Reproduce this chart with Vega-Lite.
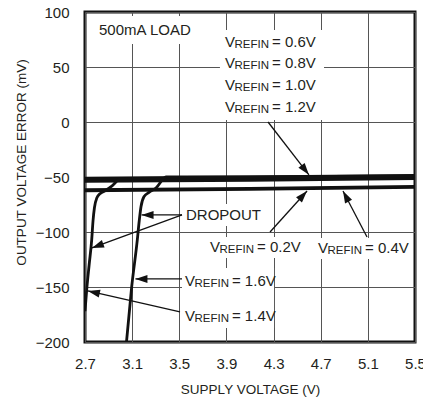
{
  "$schema": "https://vega.github.io/schema/vega-lite/v6.json",
  "autosize": "none",
  "width": 330,
  "height": 330,
  "padding": {"left": 85, "top": 12, "right": 8, "bottom": 60},
  "background": "white",
  "config": {
    "view": {"stroke": "#111", "strokeWidth": 3},
    "font": "Liberation Sans",
    "axis": {
      "grid": true, "gridColor": "#555", "gridWidth": 1, "gridOpacity": 1,
      "domain": false, "ticks": false, "tickSize": 0,
      "labelFont": "Liberation Sans",
      "titleFont": "Liberation Sans",
      "labelFontSize": 15, "titleFontSize": 13.5, "titleFontWeight": "normal",
      "labelColor": "#231f20", "titleColor": "#231f20",
      "labelOverlap": false, "labelFlush": false, "labelBound": false
    }
  },
  "datasets": {
    "curves": [
      {"s": "0.2V", "v": 2.7, "mv": -62.5}, {"s": "0.2V", "v": 4.1, "mv": -61.3}, {"s": "0.2V", "v": 5.5, "mv": -59.5},
      {"s": "0.4V", "v": 2.7, "mv": -61.5}, {"s": "0.4V", "v": 4.1, "mv": -60.3}, {"s": "0.4V", "v": 5.5, "mv": -58.5},
      {"s": "0.6V", "v": 2.7, "mv": -51}, {"s": "0.6V", "v": 4.1, "mv": -50}, {"s": "0.6V", "v": 5.5, "mv": -48.5},
      {"s": "0.8V", "v": 2.7, "mv": -52}, {"s": "0.8V", "v": 4.1, "mv": -51}, {"s": "0.8V", "v": 5.5, "mv": -49.5},
      {"s": "1.0V", "v": 2.7, "mv": -53}, {"s": "1.0V", "v": 4.1, "mv": -52}, {"s": "1.0V", "v": 5.5, "mv": -50.5},
      {"s": "1.2V", "v": 2.7, "mv": -54}, {"s": "1.2V", "v": 4.1, "mv": -53}, {"s": "1.2V", "v": 5.5, "mv": -51.5},
      {"s": "1.4V", "v": 2.7, "mv": -172}, {"s": "1.4V", "v": 2.714, "mv": -153}, {"s": "1.4V", "v": 2.735, "mv": -130},
      {"s": "1.4V", "v": 2.757, "mv": -107}, {"s": "1.4V", "v": 2.768, "mv": -90}, {"s": "1.4V", "v": 2.78, "mv": -78},
      {"s": "1.4V", "v": 2.8, "mv": -69}, {"s": "1.4V", "v": 2.83, "mv": -65}, {"s": "1.4V", "v": 2.87, "mv": -62.5},
      {"s": "1.4V", "v": 2.93, "mv": -58}, {"s": "1.4V", "v": 2.997, "mv": -52}, {"s": "1.4V", "v": 3.1, "mv": -51.8},
      {"s": "1.4V", "v": 4.1, "mv": -51}, {"s": "1.4V", "v": 5.5, "mv": -50},
      {"s": "1.6V", "v": 3.052, "mv": -200}, {"s": "1.6V", "v": 3.096, "mv": -150}, {"s": "1.6V", "v": 3.144, "mv": -107},
      {"s": "1.6V", "v": 3.16, "mv": -90}, {"s": "1.6V", "v": 3.175, "mv": -77}, {"s": "1.6V", "v": 3.2, "mv": -68},
      {"s": "1.6V", "v": 3.243, "mv": -64}, {"s": "1.6V", "v": 3.302, "mv": -60}, {"s": "1.6V", "v": 3.387, "mv": -50},
      {"s": "1.6V", "v": 3.5, "mv": -50}, {"s": "1.6V", "v": 4.1, "mv": -50}, {"s": "1.6V", "v": 5.5, "mv": -49}
    ],
    "boxes": [
      {"x1": 2.785, "x2": 3.591, "y1": 96.4, "y2": 70.9},
      {"x1": 3.845, "x2": 4.728, "y1": 83.6, "y2": 1.8},
      {"x1": 3.531, "x2": 4.151, "y1": -74.5, "y2": -94.5},
      {"x1": 3.727, "x2": 4.524, "y1": -104.5, "y2": -123.6},
      {"x1": 4.643, "x2": 5.458, "y1": -105.5, "y2": -124.5},
      {"x1": 3.523, "x2": 4.304, "y1": -132.7, "y2": -187.3}
    ],
    "arrows": [
      {"id": "a1", "x1": 4.253, "y1": 0, "x2": 4.6, "y2": -48},
      {"id": "a2", "x1": 3.523, "y1": -84.5, "x2": 3.18, "y2": -84.5},
      {"id": "a3", "x1": 3.523, "y1": -84.5, "x2": 2.759, "y2": -114.5},
      {"id": "a4", "x1": 4.27, "y1": -100, "x2": 4.584, "y2": -62.7},
      {"id": "a5", "x1": 5.093, "y1": -104.5, "x2": 4.889, "y2": -62.7},
      {"id": "a6", "x1": 3.523, "y1": -142.7, "x2": 3.128, "y2": -142.7},
      {"id": "a7", "x1": 3.506, "y1": -172.7, "x2": 2.725, "y2": -153.6}
    ],
    "notes": [
      {"x": 2.819, "y": 83.6, "t": "500mA LOAD"},
      {"x": 3.557, "y": -84.5, "t": "DROPOUT"}
    ],
    "vlabels": [
      {"x": 3.888, "y": 72.7, "v": "= 0.6V"},
      {"x": 3.888, "y": 53.6, "v": "= 0.8V"},
      {"x": 3.888, "y": 33.6, "v": "= 1.0V"},
      {"x": 3.888, "y": 13.6, "v": "= 1.2V"},
      {"x": 3.761, "y": -113.6, "v": "= 0.2V"},
      {"x": 4.677, "y": -114.5, "v": "= 0.4V"},
      {"x": 3.548, "y": -144.1, "v": "= 1.6V"},
      {"x": 3.548, "y": -176, "v": "= 1.4V"}
    ]
  },
  "layer": [
    {
      "data": {"name": "boxes"},
      "mark": {"type": "rect", "fill": "white", "stroke": null},
      "encoding": {
        "x": {"field": "x1", "type": "quantitative",
              "scale": {"domain": [2.7, 5.5], "nice": false, "zero": false},
              "axis": {"title": "SUPPLY VOLTAGE (V)", "values": [2.7, 3.1, 3.5, 3.9, 4.3, 4.7, 5.1, 5.5], "format": ".1f", "labelPadding": 14, "titlePadding": 11}},
        "x2": {"field": "x2"},
        "y": {"field": "y1", "type": "quantitative",
              "scale": {"domain": [-200, 100], "nice": false, "zero": false},
              "axis": {"title": "OUTPUT VOLTAGE ERROR (mV)", "values": [-200, -150, -100, -50, 0, 50, 100], "labelPadding": 16, "titlePadding": 7, "titleY": 150}},
        "y2": {"field": "y2"}
      }
    },
    {
      "data": {"name": "curves"},
      "mark": {"type": "line", "color": "#111", "strokeWidth": 2.8, "clip": true, "interpolate": "monotone"},
      "encoding": {
        "x": {"field": "v", "type": "quantitative"},
        "y": {"field": "mv", "type": "quantitative"},
        "detail": {"field": "s"}
      }
    },
    {
      "data": {"name": "arrows"},
      "mark": {"type": "rule", "color": "#111", "strokeWidth": 1.3},
      "encoding": {
        "x": {"field": "x1", "type": "quantitative"},
        "y": {"field": "y1", "type": "quantitative"},
        "x2": {"field": "x2"},
        "y2": {"field": "y2"}
      }
    },
    {
      "data": {"name": "arrows"},
      "mark": {"type": "point", "shape": "M0,0L-0.33,1L0.33,1Z", "filled": true, "color": "#111", "opacity": 1, "size": 576, "strokeWidth": 0},
      "encoding": {
        "x": {"field": "x2", "type": "quantitative"},
        "y": {"field": "y2", "type": "quantitative"},
        "angle": {"field": "id", "type": "nominal", "legend": null,
                  "scale": {"type": "ordinal", "domain": ["a1", "a2", "a3", "a4", "a5", "a6", "a7"], "range": [141.9, 270, 249.9, 42.1, 332.4, 270, 282.9]}}
      }
    },
    {
      "data": {"name": "notes"},
      "mark": {"type": "text", "align": "left", "baseline": "middle", "fontSize": 15, "color": "#231f20"},
      "encoding": {
        "x": {"field": "x", "type": "quantitative"},
        "y": {"field": "y", "type": "quantitative"},
        "text": {"field": "t"}
      }
    },
    {
      "data": {"name": "vlabels"},
      "mark": {"type": "text", "align": "left", "baseline": "middle", "fontSize": 15, "color": "#231f20", "text": "V"},
      "encoding": {
        "x": {"field": "x", "type": "quantitative"},
        "y": {"field": "y", "type": "quantitative"}
      }
    },
    {
      "data": {"name": "vlabels"},
      "mark": {"type": "text", "align": "left", "baseline": "middle", "fontSize": 11.5, "color": "#231f20", "text": "REFIN", "dx": 9.5, "dy": 3},
      "encoding": {
        "x": {"field": "x", "type": "quantitative"},
        "y": {"field": "y", "type": "quantitative"}
      }
    },
    {
      "data": {"name": "vlabels"},
      "mark": {"type": "text", "align": "left", "baseline": "middle", "fontSize": 15, "color": "#231f20", "dx": 47},
      "encoding": {
        "x": {"field": "x", "type": "quantitative"},
        "y": {"field": "y", "type": "quantitative"},
        "text": {"field": "v"}
      }
    }
  ]
}
